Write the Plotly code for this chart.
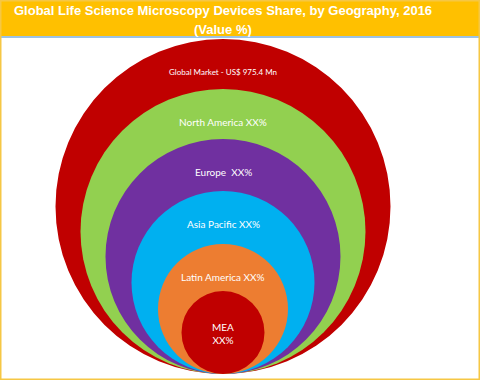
import plotly.graph_objects as go

# ---- data ----
regions = ["Global Market", "North America", "Europe", "Asia Pacific", "Latin America", "MEA"]
labels = ["Global Market - US$ 975.4 Mn", "North America XX%", "Europe  XX%",
          "Asia Pacific XX%", "Latin America XX%", "MEA<br>XX%"]
circle_size = [335, 285, 235, 183, 130, 83]   # relative diameter of nested circles
colors = ["#C00000", "#92D050", "#7030A0", "#00B0F0", "#ED7D31", "#C00000"]
title_line1 = "Global Life Science Microscopy Devices Share, by Geography, 2016"
title_line2 = "(Value %)"

W, H = 480, 380
cx = 223

fig = go.Figure()
# invisible trace to establish axes
fig.add_trace(go.Scatter(x=[cx] * len(circle_size), y=[d / 2 for d in circle_size],
                         mode="markers", marker=dict(opacity=0), hoverinfo="skip",
                         showlegend=False))

shapes = []
for d, c in zip(circle_size, colors):
    shapes.append(dict(type="circle", xref="x", yref="y",
                       x0=cx - d / 2, x1=cx + d / 2, y0=0, y1=d,
                       fillcolor=c, line=dict(width=0), layer="below"))

# header bar
shapes.append(dict(type="rect", xref="paper", yref="paper", x0=0, x1=1,
                   y0=1 - 36 / H, y1=1, fillcolor="#FFC000", line=dict(width=0), layer="above"))
shapes.append(dict(type="line", xref="paper", yref="paper", x0=0, x1=1,
                   y0=1 - 37 / H, y1=1 - 37 / H, line=dict(color="#9DC3E6", width=2), layer="above"))
# outer border
shapes.append(dict(type="rect", xref="paper", yref="paper", x0=0, x1=1, y0=0, y1=1,
                   line=dict(color="#F6C744", width=3), fillcolor="rgba(0,0,0,0)", layer="above"))

annotations = []
for i, (lab, d) in enumerate(zip(labels, circle_size)):
    size = 8 if i == 0 else 10
    annotations.append(dict(x=cx, y=d - 33 if i < 5 else d - 42, xref="x", yref="y",
                            text=lab, showarrow=False, yanchor="middle",
                            font=dict(family="Lato, Noto Sans, sans-serif", size=size, color="white")))

annotations.append(dict(x=223 / W, y=1 - 11 / H, xref="paper", yref="paper",
                        text="<b>" + title_line1 + "</b>", showarrow=False, yanchor="middle",
                        font=dict(family="Liberation Sans, Arial", size=13, color="white")))
annotations.append(dict(x=223 / W, y=1 - 29 / H, xref="paper", yref="paper",
                        text="<b>" + title_line2 + "</b>", showarrow=False, yanchor="middle",
                        font=dict(family="Liberation Sans, Arial", size=13, color="white")))

fig.update_layout(
    width=W, height=H, margin=dict(l=0, r=0, t=0, b=0),
    paper_bgcolor="white", plot_bgcolor="white",
    xaxis=dict(range=[0, W], visible=False, fixedrange=True),
    yaxis=dict(range=[-6, H - 6], visible=False, fixedrange=True),
    shapes=shapes, annotations=annotations, showlegend=False,
)

fig.write_html("out.html", config={"displayModeBar": False},
               post_script="document.body.style.margin='0';document.body.style.overflow='hidden';")
